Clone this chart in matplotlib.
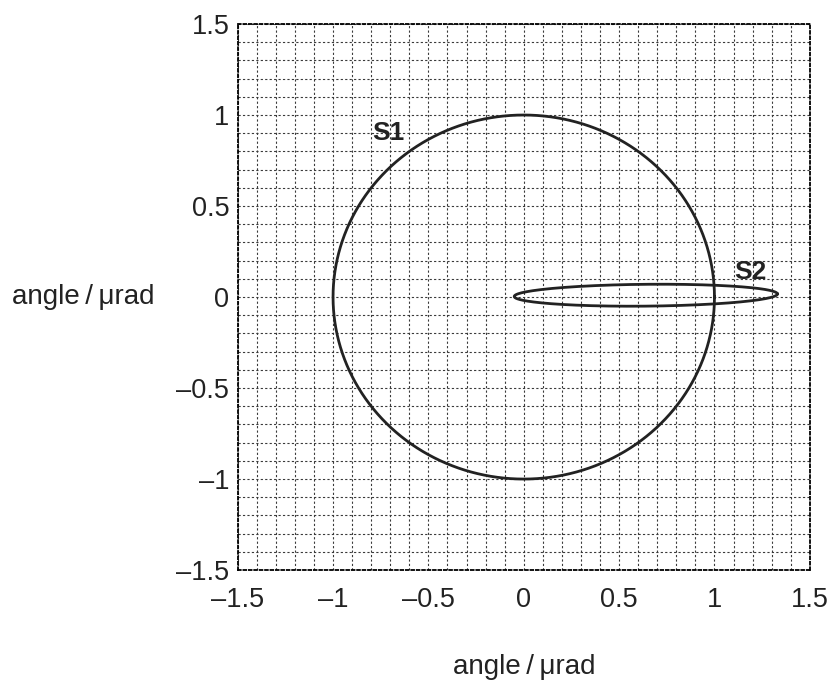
import numpy as np
import matplotlib
matplotlib.use('Agg')
import matplotlib.pyplot as plt
from matplotlib.ticker import MultipleLocator

plt.rcParams['font.family'] = ['Liberation Sans', 'DejaVu Sans']

# data
ticks = [-1.5, -1, -0.5, 0, 0.5, 1, 1.5]
tick_labels = ['\u20131.5', '\u20131', '\u20130.5', '0', '0.5', '1', '1.5']
s1_center = (0.0, 0.0)
s1_radii = (1.0, 1.0)
s2_center = (0.64, 0.01)
s2_radii = (0.69, 0.06)
s2_tilt = 0.01   # rad
labels = ['S1', 'S2']
label_pos = [(-0.71, 0.9), (1.19, 0.14)]

t = np.linspace(0, 2 * np.pi, 721)

fig = plt.figure(figsize=(8.34, 6.86), dpi=100)
ax = fig.add_axes([0.285, 0.169, 0.686, 0.796])

x1 = s1_center[0] + s1_radii[0] * np.cos(t)
y1 = s1_center[1] + s1_radii[1] * np.sin(t)
ax.plot(x1, y1, color='#222222', linewidth=2)

ex = s2_radii[0] * np.cos(t)
ey = s2_radii[1] * np.sin(t)
x2 = s2_center[0] + ex * np.cos(s2_tilt) - ey * np.sin(s2_tilt)
y2 = s2_center[1] + ex * np.sin(s2_tilt) + ey * np.cos(s2_tilt)
ax.plot(x2, y2, color='#222222', linewidth=2)

for lab, (lx, ly) in zip(labels, label_pos):
    ax.text(lx, ly, lab, fontsize=19, fontweight='bold', ha='center', va='center',
            color='#222222')

ax.set_xlim(-1.5, 1.5)
ax.set_ylim(-1.5, 1.5)
ax.set_xticks(ticks)
ax.set_xticklabels(tick_labels)
ax.set_yticks(ticks)
ax.set_yticklabels(tick_labels)
ax.xaxis.set_minor_locator(MultipleLocator(0.1))
ax.yaxis.set_minor_locator(MultipleLocator(0.1))
ax.grid(which='both', color='#3a3a3a', linestyle=(0, (2, 2)), linewidth=0.8)
ax.set_axisbelow(True)
ax.tick_params(which='both', length=0, labelsize=19.5, labelcolor='#222222')
ax.tick_params(axis='x', pad=12)
ax.tick_params(axis='y', pad=6)

for sp in ax.spines.values():
    sp.set_linestyle((0, (1.5, 1.5)))
    sp.set_linewidth(1.3)

ax.set_xlabel('angle\u2009/\u2009\u03bcrad', fontsize=20, labelpad=30, color='#222222')
ax.set_ylabel('angle\u2009/\u2009\u03bcrad', fontsize=20, rotation=0, va='center',
              ha='center', color='#222222')
ax.yaxis.set_label_coords(-0.27, 0.5)

fig.savefig('out.png', dpi=100)
